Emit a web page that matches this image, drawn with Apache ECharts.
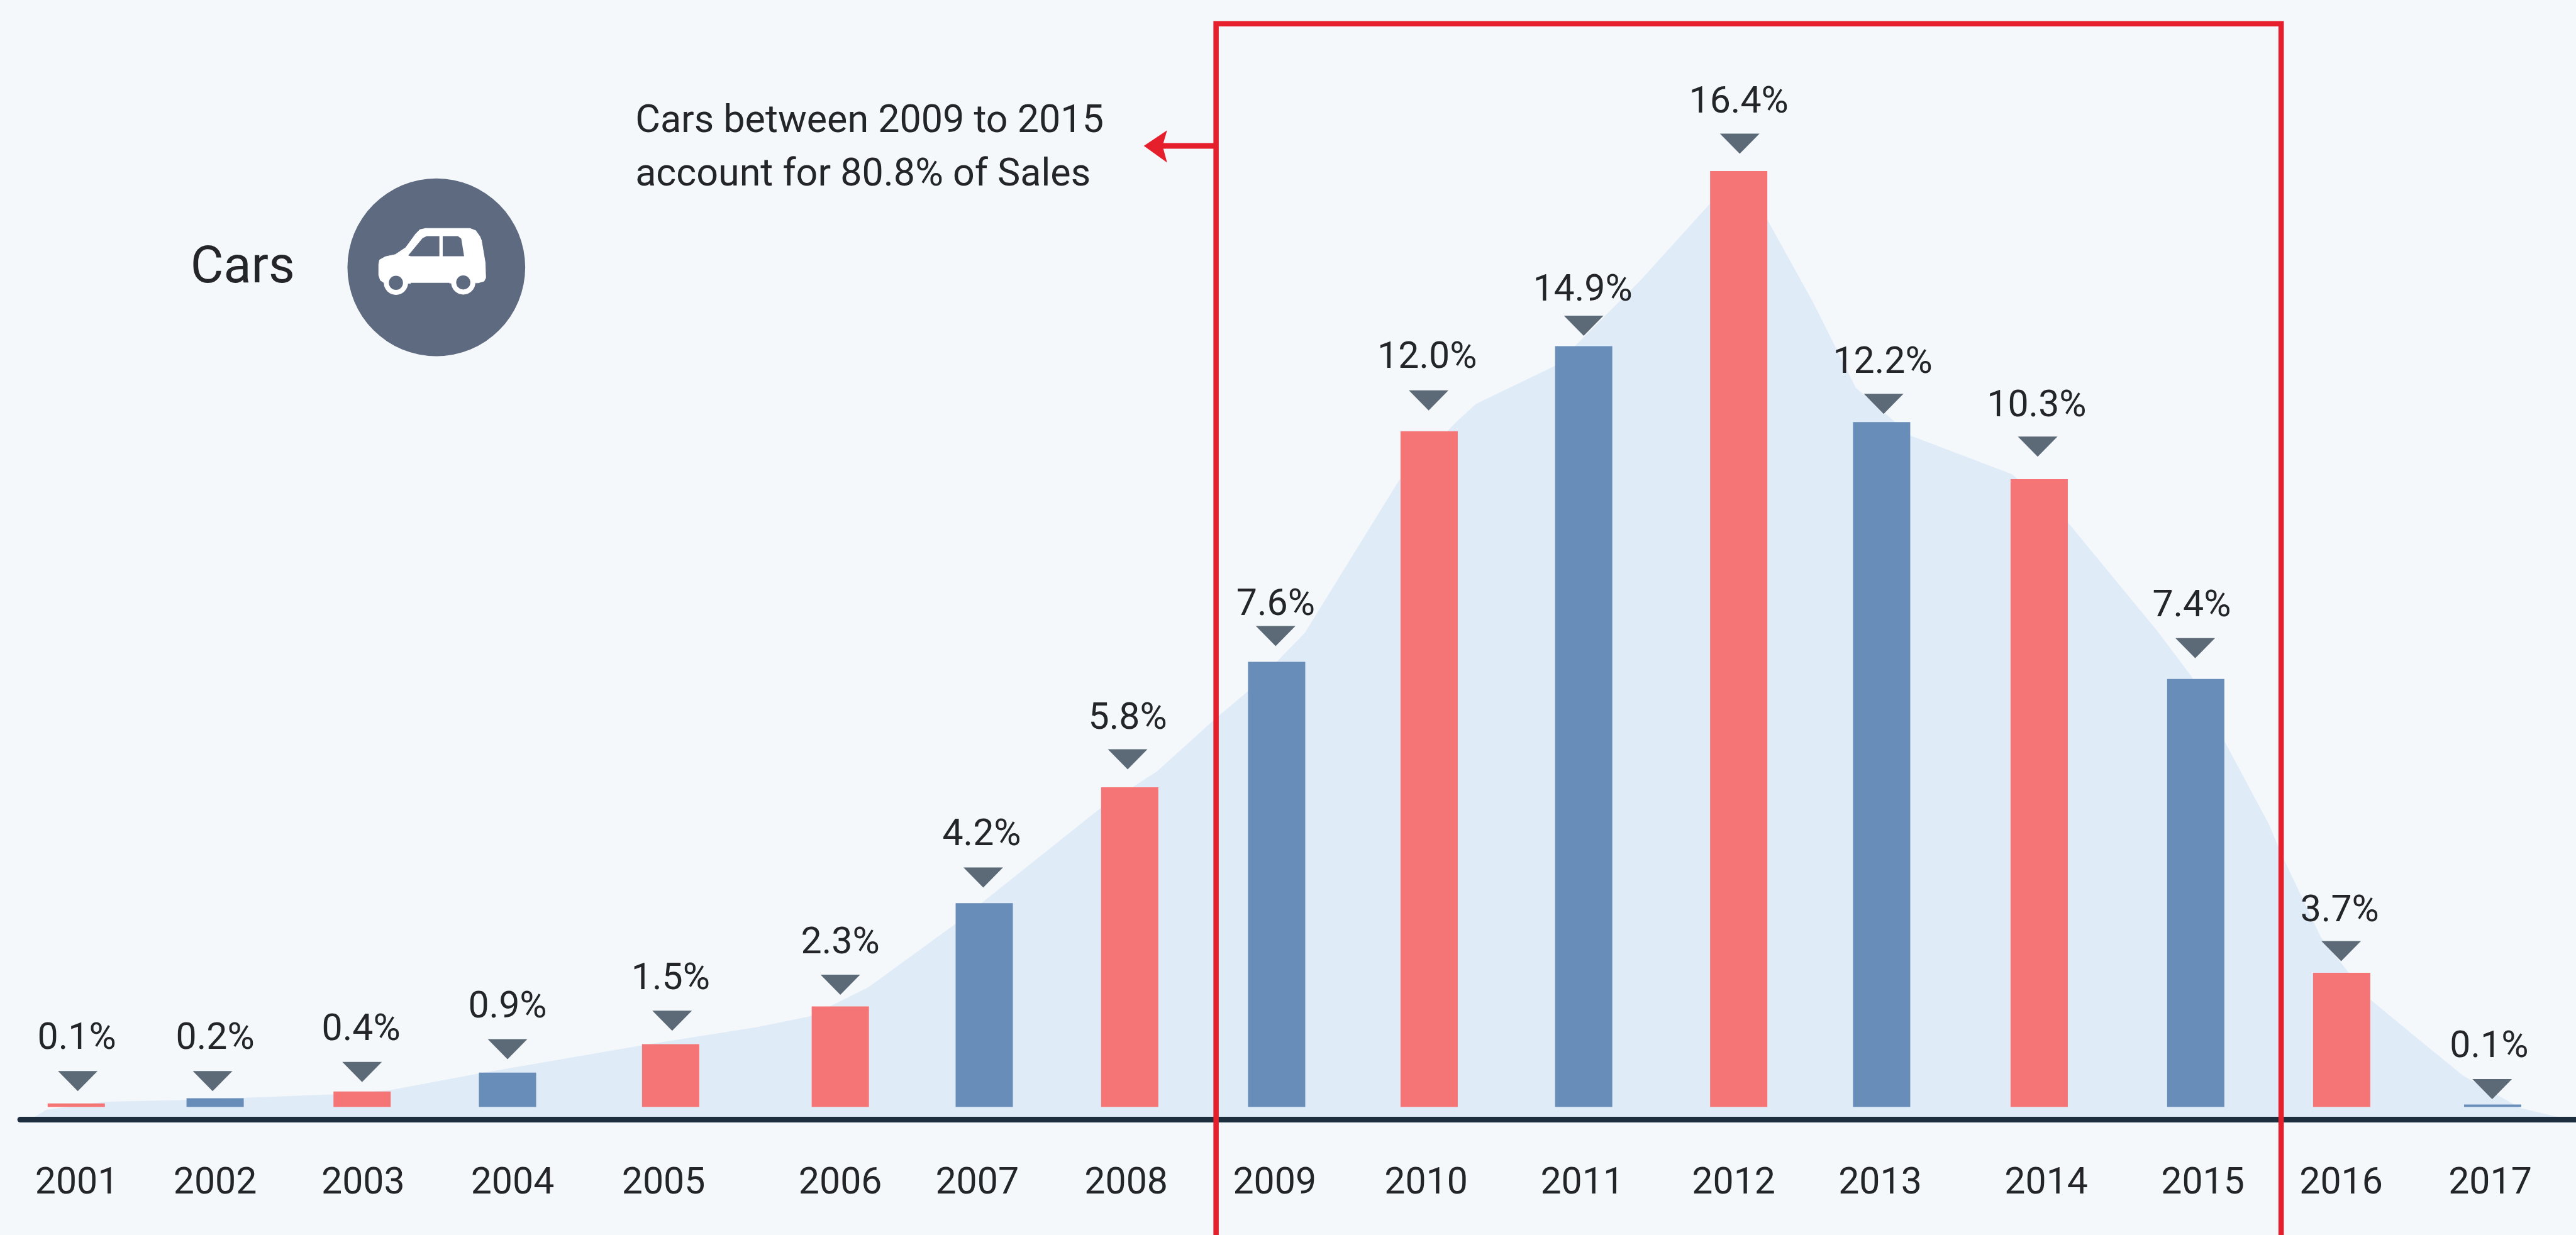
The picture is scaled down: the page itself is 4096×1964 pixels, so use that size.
<!DOCTYPE html>
<html><head><meta charset="utf-8">
<style>html,body{margin:0;padding:0;background:#f5f8fb}#c{width:4096px;height:1964px}</style>
<script src="https://cdn.jsdelivr.net/npm/echarts@6/dist/echarts.min.js"></script>
</head><body><div id="c"></div>
<script>
var years = ['2001','2002','2003','2004','2005','2006','2007','2008','2009','2010','2011','2012','2013','2014','2015','2016','2017'];
var shareText = ['0.1%','0.2%','0.4%','0.9%','1.5%','2.3%','4.2%','5.8%','7.6%','12.0%','14.9%','16.4%','12.2%','10.3%','7.4%','3.7%','0.1%'];
// Bar heights as drawn in the picture, on the scale where the tallest bar is 16.4
var barValues = [0.06,0.15,0.27,0.6,1.1,1.76,3.57,5.6,7.8,11.84,13.33,16.4,12.0,11.0,7.5,2.35,0.04];
var barTones = ['r','b','r','b','r','r','b','r','b','r','b','r','b','r','b','r','b'];
// The picture's columns are unevenly spaced: slot centres along the horizontal axis
var barSlots = [151,426,717,1005,1328,1664,1949,2237,2528,2830,3136,3443,3726,4038,4348,4637,4936];
var yearSlots = [152,426,719,1015,1314,1664,1935,2230,2524,2824,3133,3433,3723,4052,4362,4636,4931];
var markerSlots = [154,421,717,1005,1331,1664,1947,2233,2526,2829,3136,3445,3730,4035,4347,4636,4935];
var markerLevels = [0.45,0.45,0.61,1.01,1.51,2.14,4.02,6.09,8.25,12.38,13.69,16.88,12.32,11.57,8.04,2.73,0.31];
var textSlots = [152,426,715,1005,1328,1664,1944,2233,2526,2826,3134,3443,3728,4033,4340,4633,4929];
var textLevels = [1.18,1.18,1.33,1.73,2.23,2.85,4.75,6.79,8.78,13.11,14.29,17.59,13.03,12.27,8.76,3.42,1.03];
// Pale silhouette behind the bars, vertices
var hillSlots = [60,92,209,370,663,770,946,1272,1500,1605,1720,1891,2007,2184,2291,2405,2472,2584,2771,2888,2923,3080,3248,3382,3443,3502,3591,3675,3784,3984,4094,4272,4339,4403,4493,4523,4596,4691,4791,4877,4991,5061,5098];
var hillValues = [-0.22,-0.05,0.09,0.12,0.22,0.29,0.58,1.08,1.40,1.59,2.10,3.20,4.02,5.27,5.88,6.79,7.29,8.31,10.99,12.04,12.32,12.99,14.48,15.79,16.4,15.51,14.09,12.6,11.76,11.09,10.25,8.34,7.55,6.44,4.95,4.33,2.97,1.90,1.17,0.55,-0.02,-0.17,-0.2];

var S = 0.803, BLUE = '#698db9', RED = '#f57577', INK = '#232528', FONT = 'Roboto', DISC = '#5e6a80';
function P(v){ return v * S; }
function pair(a, b){ return a.map(function(v, i){ return [v, b[i]]; }); }

var chart = echarts.init(document.getElementById('c'), null, {renderer:'canvas'});
chart.setOption({
  animation: false,
  backgroundColor: '#f5f8fb',
  grid: {left: P(40), right: 0, top: 0, bottom: 1964 - P(2217)},
  xAxis: {
    type: 'value', min: 40, max: 5101, z: 5,
    splitLine: {show:false},
    axisTick: {show:false},
    axisLine: {show:true, onZero:false, lineStyle:{color:'#1d2f3f', width:9}},
    axisLabel: {
      show: true, customValues: yearSlots, margin: P(92), color: INK,
      fontFamily: FONT, fontSize: 59, hideOverlap: false,
      formatter: function(v){ return years[yearSlots.indexOf(v)]; }
    }
  },
  yAxis: {type:'value', min:-0.221, max:19.398, show:false, splitLine:{show:false}},
  series: [
    {type:'line', name:'Silhouette', data: pair(hillSlots, hillValues), showSymbol:false, silent:true,
     lineStyle:{width:0}, itemStyle:{opacity:0}, areaStyle:{color:'#e0ebf8', opacity:1, origin:'start'}, z:1},
    {type:'bar', name:'Cars', barWidth: 91, silent:true, z:2,
     data: barValues.map(function(v,i){ return {value:[barSlots[i], v], itemStyle:{color: barTones[i]==='r'?RED:BLUE}}; })},
    {type:'scatter', name:'Markers', silent:true, z:3, data: pair(markerSlots, markerLevels),
     symbol:'path://M0 0H2L1 1Z', symbolKeepAspect:false, symbolSize:[63,32], itemStyle:{color:'#5b6a76', opacity:1}},
    {type:'scatter', name:'Shares', silent:true, z:4, symbolSize:1, itemStyle:{color:'rgba(0,0,0,0)', opacity:1},
     data: textSlots.map(function(x,i){ return {value:[x, textLevels[i]], name:shareText[i]}; }),
     label:{show:true, position:'inside', formatter:'{b}', color:INK, fontFamily:FONT, fontSize:59, align:'center', verticalAlign:'middle'},
     labelLayout:{hideOverlap:false}}
  ],
  graphic: {elements: [
    {type:'polyline', z:100, shape:{points:[[P(2408),1970],[P(2408),P(47)],[P(4517),P(47)],[P(4517),1970]]},
     style:{stroke:'#e51f2b', lineWidth:8.5, fill:null, lineJoin:'miter'}},
    {type:'line', z:100, shape:{x1:P(2300),y1:P(289),x2:P(2408),y2:P(289)}, style:{stroke:'#e51f2b', lineWidth:9}},
    {type:'polygon', z:100, shape:{points:[[P(2265),P(289)],[P(2311),P(258)],[P(2302),P(289)],[P(2311),P(322)]]}, style:{fill:'#e51f2b'}},
    {type:'text', z:100, x:P(1258), y:P(243), style:{text:'Cars between 2009 to 2015', font:'61px '+FONT, fill:INK, verticalAlign:'middle', textAlign:'left'}},
    {type:'text', z:100, x:P(1258), y:P(349), style:{text:'account for 80.8% of Sales', font:'61px '+FONT, fill:INK, verticalAlign:'middle', textAlign:'left'}},
    {type:'text', z:100, x:P(377), y:P(534), style:{text:'Cars', font:'81px '+FONT, fill:INK, verticalAlign:'middle', textAlign:'left'}},
    {type:'circle', z:100, shape:{cx:P(864), cy:P(529.5), r:P(176)}, style:{fill:DISC}},
    {type:'group', z:101, x:P(720), y:P(420), scaleX:S/3, scaleY:S/3, children:[
      {type:'polygon', z:101, shape:{points:[[90,310],[95,285],[130,265],[190,252],[250,212],[310,130],[335,105],[370,97],[630,97],[665,110],[690,145],[700,170],[722,300],[725,390],[715,410],[680,420],[130,425],[100,405],[90,375]]}, style:{fill:'#fff', stroke:'#fff', lineWidth:4, lineJoin:'round'}},
      {type:'circle', z:102, shape:{cx:192,cy:420,r:72}, style:{fill:'#fff'}},
      {type:'circle', z:102, shape:{cx:592,cy:418,r:72}, style:{fill:'#fff'}},
      {type:'circle', z:103, shape:{cx:192,cy:420,r:42}, style:{fill:DISC}},
      {type:'circle', z:103, shape:{cx:592,cy:418,r:42}, style:{fill:DISC}},
      {type:'rect', z:102, shape:{x:280,y:420,width:230,height:80}, style:{fill:DISC}},
      {type:'polygon', z:103, shape:{points:[[265,258],[350,155],[375,143],[450,143],[450,262],[280,262]]}, style:{fill:DISC}},
      {type:'polygon', z:103, shape:{points:[[470,143],[560,143],[580,158],[597,262],[470,262]]}, style:{fill:DISC}}
    ]}
  ]}
});
</script></body></html>
